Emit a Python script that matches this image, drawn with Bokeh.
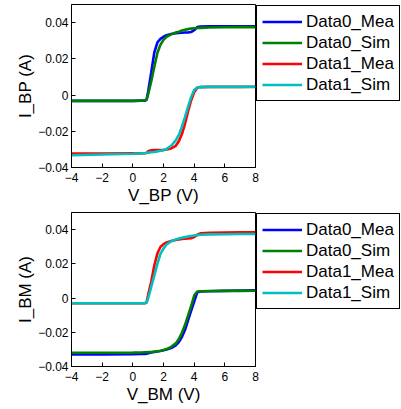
from bokeh.plotting import figure
from bokeh.models import Range1d, FixedTicker, Legend, LegendItem
from bokeh.layouts import column
from bokeh.embed import file_html
from bokeh.resources import INLINE

# shared voltage grid (V)
V = [-4, -2, 0, 0.5, 0.8, 0.9, 1.0, 1.2, 1.4, 1.6, 1.8, 2.0, 2.2, 2.5, 2.8,
     3.0, 3.2, 3.4, 3.6, 3.8, 4.0, 4.2, 4.4, 5, 6, 7, 8]

# top panel: I_BP vs V_BP
bp_data0_mea = [-0.0032, -0.0032, -0.0032, -0.0031, -0.0031, -0.0025, 0.002, 0.0125, 0.0235, 0.029,
                0.031, 0.0322, 0.033, 0.0337, 0.0341, 0.0343, 0.0344, 0.0345, 0.0345, 0.0348,
                0.0358, 0.0375, 0.0378, 0.0379, 0.0379, 0.0379, 0.0379]
bp_data0_sim = [-0.0032, -0.0032, -0.0032, -0.0031, -0.003, -0.0025, 0.0005, 0.0075, 0.0155, 0.0232,
                0.0278, 0.0305, 0.0322, 0.0335, 0.0345, 0.035, 0.0356, 0.036, 0.0364, 0.0367,
                0.0369, 0.037, 0.0371, 0.0373, 0.0374, 0.0375, 0.0375]
bp_data1_mea = [-0.0323, -0.0323, -0.0322, -0.0322, -0.0321, -0.032, -0.031, -0.0305, -0.0304, -0.0304,
                -0.0304, -0.0303, -0.0301, -0.0295, -0.028, -0.0255, -0.0215, -0.016, -0.009, -0.003,
                0.0015, 0.004, 0.0044, 0.0045, 0.0045, 0.0045, 0.0046]
bp_data1_sim = [-0.0332, -0.0328, -0.0324, -0.0322, -0.032, -0.0319, -0.0318, -0.0316, -0.0314, -0.0311,
                -0.0308, -0.0304, -0.0297, -0.028, -0.025, -0.022, -0.0175, -0.0122, -0.0065, -0.0012,
                0.0028, 0.0042, 0.0044, 0.0045, 0.0045, 0.0045, 0.0045]

# bottom panel: I_BM vs V_BM
bm_data0_mea = [-0.033, -0.0329, -0.0328, -0.0327, -0.0326, -0.0325, -0.0322, -0.0318, -0.0315, -0.0312,
                -0.0309, -0.0305, -0.03, -0.0292, -0.0276, -0.0258, -0.0228, -0.0187, -0.013, -0.0075,
                -0.002, 0.0033, 0.0038, 0.004, 0.0042, 0.0044, 0.0046]
bm_data0_sim = [-0.032, -0.032, -0.0319, -0.0318, -0.0317, -0.0317, -0.0316, -0.0315, -0.0313, -0.0311,
                -0.0308, -0.0304, -0.0298, -0.0285, -0.0265, -0.024, -0.0203, -0.0158, -0.0103, -0.0048,
                0.0015, 0.0038, 0.004, 0.0041, 0.0042, 0.0042, 0.0043]
bm_data1_mea = [-0.003, -0.003, -0.003, -0.003, -0.003, -0.0025, 0.002, 0.0095, 0.019, 0.026,
                0.0298, 0.0315, 0.0325, 0.0333, 0.0339, 0.0342, 0.0345, 0.0347, 0.0348, 0.035,
                0.0356, 0.037, 0.0378, 0.0382, 0.0383, 0.0384, 0.0384]
bm_data1_sim = [-0.003, -0.003, -0.003, -0.003, -0.003, -0.0026, 0.0, 0.0065, 0.0133, 0.0198,
                0.0258, 0.0289, 0.0313, 0.0332, 0.0342, 0.0348, 0.0352, 0.0356, 0.036, 0.0363,
                0.0366, 0.0368, 0.037, 0.0372, 0.0373, 0.0374, 0.0374]

NAMES = ["Data0_Mea", "Data0_Sim", "Data1_Mea", "Data1_Sim"]
COLORS = ["#0000ff", "#008000", "#ff0000", "#00bfbf"]
X_TICKS = [-4, -2, 0, 2, 4, 6, 8]
Y_TICKS = [-0.04, -0.02, 0, 0.02, 0.04]

FONT = "Liberation Sans"


def fmt(t):
    return ("%g" % t).replace("-", "\u2212")


def style_axis(ax, ticks, lab):
    ax.ticker = FixedTicker(ticks=ticks, minor_ticks=[])
    ax.major_tick_in = 4
    ax.major_tick_out = 0
    ax.minor_tick_in = 0
    ax.minor_tick_out = 0
    ax.axis_line_color = "black"
    ax.major_tick_line_color = "black"
    ax.major_label_overrides = {t: fmt(t) for t in ticks}
    ax.axis_label = lab
    ax.axis_label_text_font = FONT
    ax.axis_label_text_font_size = "17px"
    ax.axis_label_text_font_style = "normal"
    ax.axis_label_text_color = "black"
    ax.major_label_text_font = FONT
    ax.major_label_text_font_size = "12px"
    ax.major_label_text_color = "black"


def make(series, xlabel, ylabel, frame_h, top_border):
    p = figure(frame_width=184, frame_height=frame_h,
               x_range=Range1d(-4, 8), y_range=Range1d(-0.04, 0.05),
               output_backend="svg", toolbar_location=None,
               min_border_left=71, min_border_right=0,
               min_border_top=top_border, min_border_bottom=0)
    p.grid.visible = False
    p.outline_line_color = "black"
    p.outline_line_width = 1
    p.outline_line_alpha = 1
    p.background_fill_color = "white"
    p.border_fill_color = "white"

    renderers = []
    for ys, c in zip(series, COLORS):
        r = p.line(V, ys, line_color=c, line_width=2.6)
        renderers.append(r)

    style_axis(p.xaxis[0], X_TICKS, xlabel)
    style_axis(p.yaxis[0], Y_TICKS, ylabel)
    p.xaxis.major_label_standoff = 5
    p.xaxis.axis_label_standoff = 1
    p.yaxis.major_label_standoff = 3
    p.yaxis.axis_label_standoff = 0

    items = [LegendItem(label=n, renderers=[r]) for n, r in zip(NAMES, renderers)]
    leg = Legend(items=items, location="top_left", orientation="vertical",
                 border_line_color="black", border_line_width=1, border_line_alpha=1,
                 background_fill_color="white", background_fill_alpha=1,
                 padding=5, spacing=0, margin=1,
                 glyph_width=40, glyph_height=21, label_standoff=4, label_width=88,
                 label_text_font=FONT, label_text_font_size="17px",
                 label_text_color="black")
    p.add_layout(leg, "right")
    return p


p1 = make([bp_data0_mea, bp_data0_sim, bp_data1_mea, bp_data1_sim], "V_BP (V)", "I_BP (A)", 163, 4)
p2 = make([bm_data0_mea, bm_data0_sim, bm_data1_mea, bm_data1_sim], "V_BM (V)", "I_BM (A)", 154, 5)

layout = column(p1, p2, spacing=0)
open("out.html", "w").write(file_html(layout, INLINE))
